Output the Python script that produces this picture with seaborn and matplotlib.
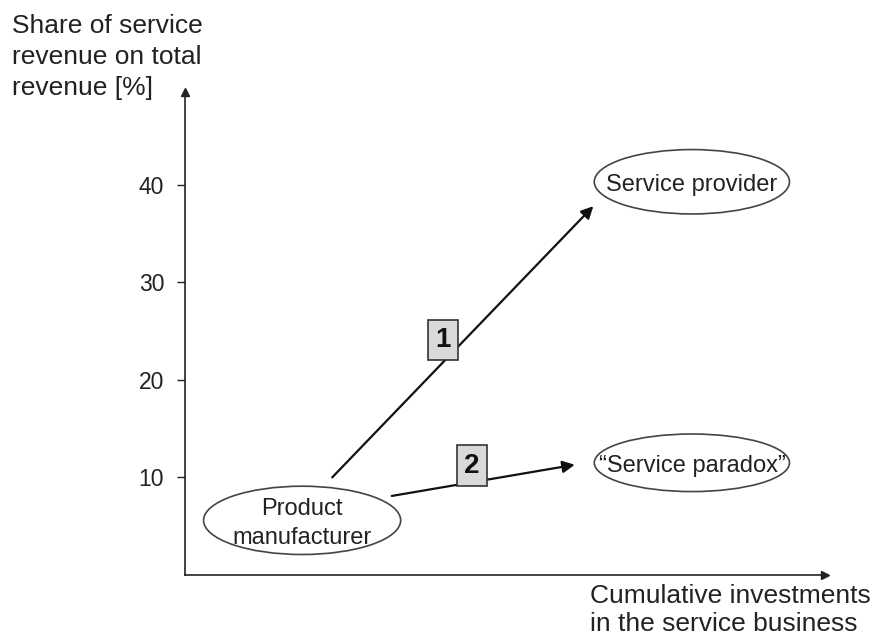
import matplotlib
matplotlib.use("Agg")
import matplotlib.pyplot as plt
from matplotlib.patches import Ellipse
import seaborn as sns

# ---- data ----
y_ticks = [10, 20, 30, 40]
node_labels = ["Product\nmanufacturer", "Service provider", "\u201cService paradox\u201d"]
node_x = [18.3, 79.2, 79.2]
node_y = [5.6, 40.3, 11.5]
node_w = [30.8, 30.5, 30.5]
node_h = [7.0, 6.6, 5.9]

arrow_labels = ["1", "2"]
arrow_x0 = [23.0, 32.3]
arrow_y0 = [10.0, 8.1]
arrow_x1 = [63.8, 60.9]
arrow_y1 = [37.8, 11.3]
box_x = [40.3, 44.8]
box_y = [24.1, 11.2]

y_label = "Share of service\nrevenue on total\nrevenue [%]"
x_label = "Cumulative investments\nin the service business"

sns.set_theme(style="white")
plt.rcParams['font.family'] = ['Liberation Sans', 'DejaVu Sans']

fig = plt.figure(figsize=(8.82, 6.42), dpi=100)
ax = fig.add_axes([185/882, (642-575)/642, 640/882, (575-92)/642])
ax.set_xlim(0, 100)
ax.set_ylim(0, 49.5)

sns.despine(ax=ax)
for s in ["left", "bottom"]:
    ax.spines[s].set_color("#222222")
    ax.spines[s].set_linewidth(1.2)
ax.plot(1, 0, ">", color="#222222", ms=6, transform=ax.transAxes, clip_on=False)
ax.plot(0, 1, "^", color="#222222", ms=6, transform=ax.transAxes, clip_on=False)

ax.set_xticks([])
ax.set_yticks(y_ticks)
ax.set_yticklabels([str(t) for t in y_ticks], fontsize=16.5, color="#222222")
ax.tick_params(axis="y", direction="out", length=6, width=1, color="#222222",
               left=True, pad=9)

for lab, x, y, w, h in zip(node_labels, node_x, node_y, node_w, node_h):
    ax.add_patch(Ellipse((x, y), w, h, facecolor="white", edgecolor="#444444", lw=1.2, zorder=3))
    ax.annotate(lab, xy=(x, y), xytext=(0, -2), textcoords="offset points",
                ha="center", va="center", fontsize=17, color="#222222",
                linespacing=1.4, zorder=4)

for lab, x0, y0, x1, y1, bx, by in zip(arrow_labels, arrow_x0, arrow_y0, arrow_x1, arrow_y1, box_x, box_y):
    ax.annotate("", xy=(x1, y1), xytext=(x0, y0),
                arrowprops=dict(arrowstyle="-|>", color="#111111", lw=1.6,
                                mutation_scale=18, shrinkA=0, shrinkB=0), zorder=2)
    ax.text(bx, by, lab, ha="center", va="center", fontsize=20, fontweight="bold",
            color="#111111", zorder=5,
            bbox=dict(boxstyle="square,pad=0.26", facecolor="#d9d9d9", edgecolor="#333333", lw=1.2))

fig.text(12/882, 1 - 14/642, y_label, ha="left", va="top", fontsize=19,
         color="#222222", linespacing=1.38)
fig.text(590/882, 1 - 584/642, x_label, ha="left", va="top", fontsize=19,
         color="#222222", linespacing=1.22)

fig.savefig("out.png", dpi=100, facecolor="white")
